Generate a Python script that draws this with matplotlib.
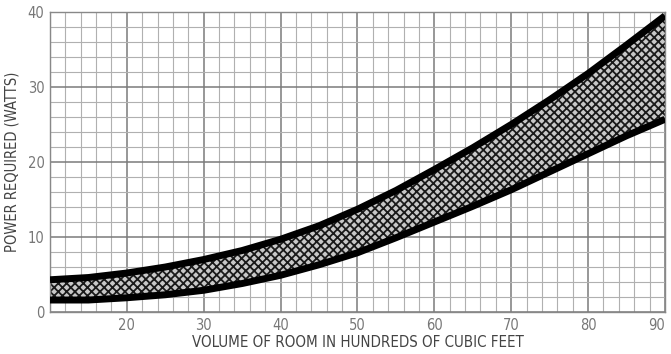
import matplotlib
matplotlib.use('Agg')
import matplotlib.pyplot as plt
import numpy as np

# room volume (hundreds of cubic feet) and power band limits (watts)
volume = [10, 15, 20, 25, 30, 35, 40, 45, 50, 55, 60, 65, 70, 75, 80, 85, 90]
power_hi = [4.3, 4.6, 5.2, 6.0, 7.0, 8.2, 9.7, 11.5, 13.7, 16.2, 19.0, 21.9, 25.0, 28.3, 31.8, 35.6, 39.5]
power_lo = [1.6, 1.6, 1.9, 2.3, 2.9, 3.8, 4.9, 6.3, 7.9, 9.9, 12.0, 14.1, 16.3, 18.7, 21.1, 23.5, 25.7]

x_ticks = [20, 30, 40, 50, 60, 70, 80, 90]
y_ticks = [0, 10, 20, 30, 40]

plt.rcParams['font.family'] = ['DejaVu Sans']
plt.rcParams['font.stretch'] = 'condensed'
plt.rcParams['hatch.linewidth'] = 1.3

fig = plt.figure(figsize=(6.71, 3.54), dpi=100)
ax = fig.add_axes([0.0745, 0.1186, 0.9165, 0.8474])

ax.set_xlim(10, 90)
ax.set_ylim(0, 40)

# graph paper grid
ax.set_xticks(np.arange(10, 91, 2), minor=True)
ax.set_yticks(np.arange(0, 41, 2), minor=True)
ax.set_xticks(x_ticks)
ax.set_yticks(y_ticks)
ax.grid(which='minor', color='#b0b0b0', linewidth=0.8)
ax.grid(which='major', color='#7a7a7a', linewidth=1.1)
ax.set_axisbelow(True)

ax.fill_between(volume, power_lo, power_hi, facecolor='#c8c8c8',
                edgecolor='#1a1a1a', hatch='xxxx', linewidth=0, zorder=2)
ax.plot(volume, power_hi, color='black', linewidth=5, solid_capstyle='butt', zorder=3)
ax.plot(volume, power_lo, color='black', linewidth=5, solid_capstyle='butt', zorder=3)

for s in ax.spines.values():
    s.set_color('#888888')
    s.set_linewidth(1.0)

ax.tick_params(which='both', length=0, labelsize=10.5, labelcolor='#777777', pad=4)
ax.set_xticklabels([str(t) for t in x_ticks])
ax.get_xticklabels()[-1].set_horizontalalignment('right')

ax.set_xlabel('VOLUME OF ROOM IN HUNDREDS OF CUBIC FEET', fontsize=10.8, color='#444444', labelpad=2)
ax.set_ylabel('POWER REQUIRED (WATTS)', fontsize=10.5, color='#444444', labelpad=6)

fig.savefig('out.png', dpi=100)
